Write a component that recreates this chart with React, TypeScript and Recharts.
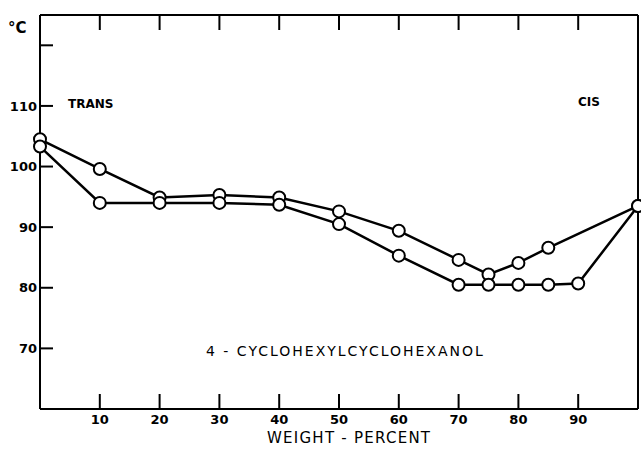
import * as React from 'react';
import { LineChart, Line, XAxis, YAxis, Customized } from 'recharts';

// weight-percent of cis isomer
const weights = [0, 10, 20, 30, 40, 50, 60, 70, 75, 80, 85, 90, 100];
// upper curve (no point at 90)
const upperTemps = [104.5, 99.6, 94.9, 95.3, 94.9, 92.6, 89.4, 84.6, 82.2, 84.1, 86.6, null, 93.5];
// lower curve
const lowerTemps = [103.3, 94.0, 94.0, 94.0, 93.7, 90.5, 85.3, 80.5, 80.5, 80.5, 80.5, 80.7, 93.5];

const xTicks = [10, 20, 30, 40, 50, 60, 70, 80, 90];
const yTicks = [70, 80, 90, 100, 110, 120];
const yTicksRight = [70, 80, 100, 110, 120];

const data = weights.map((w, i) => ({ x: w, upper: upperTemps[i], lower: lowerTemps[i] }));

const INK = '#000';
const FONT = '"DejaVu Sans", "Liberation Sans", sans-serif';

const Annotations = () => (
  <g fontFamily={FONT} fill={INK}>
    <text x={8} y={33} fontSize={15} fontWeight="bold">°C</text>
    <text x={68} y={108} fontSize={12} fontWeight="bold">TRANS</text>
    <text x={578} y={106} fontSize={12} fontWeight="bold">CIS</text>
    <text x={206} y={356} fontSize={14} letterSpacing={2}>4 - CYCLOHEXYLCYCLOHEXANOL</text>
    <text x={267} y={443} fontSize={15} letterSpacing={1.25}>WEIGHT - PERCENT</text>
  </g>
);

export default function App() {
  const dot = { r: 6, fill: '#fff', stroke: INK, strokeWidth: 2 };
  const tickStyle = { fill: INK, fontSize: 13, fontWeight: 'bold' as const, fontFamily: FONT };
  return (
    <div style={{ position: 'absolute', left: 0, top: 0, background: '#fff' }}>
      <LineChart width={641} height={456} data={data} margin={{ top: 0, right: 0, bottom: 0, left: 0 }}>
        <XAxis
          type="number"
          dataKey="x"
          domain={[0, 100]}
          ticks={xTicks}
          height={47}
          tickSize={-15}
          tickMargin={21}
          tick={tickStyle}
          axisLine={{ stroke: INK, strokeWidth: 2 }}
          tickLine={{ stroke: INK, strokeWidth: 2 }}
        />
        <XAxis
          xAxisId="top"
          orientation="top"
          type="number"
          dataKey="x"
          domain={[0, 100]}
          ticks={xTicks}
          height={15}
          tickSize={-15}
          tickFormatter={() => ''}
          axisLine={{ stroke: INK, strokeWidth: 2 }}
          tickLine={{ stroke: INK, strokeWidth: 2 }}
        />
        <YAxis
          type="number"
          domain={[60, 125]}
          ticks={yTicks}
          width={40}
          tickSize={-13}
          tickMargin={16}
          tick={tickStyle}
          tickFormatter={(v: number) => (v === 120 ? '' : String(v))}
          axisLine={{ stroke: INK, strokeWidth: 2 }}
          tickLine={{ stroke: INK, strokeWidth: 2 }}
        />
        <YAxis
          yAxisId="right"
          orientation="right"
          type="number"
          domain={[60, 125]}
          ticks={yTicksRight}
          width={3}
          tickSize={-13}
          tickFormatter={() => ''}
          axisLine={{ stroke: INK, strokeWidth: 2 }}
          tickLine={{ stroke: INK, strokeWidth: 2 }}
        />
        <Line
          dataKey="upper"
          type="linear"
          stroke={INK}
          strokeWidth={2.5}
          dot={dot}
          connectNulls
          isAnimationActive={false}
        />
        <Line
          dataKey="lower"
          type="linear"
          stroke={INK}
          strokeWidth={2.5}
          dot={dot}
          isAnimationActive={false}
        />
        <Customized component={Annotations} />
      </LineChart>
    </div>
  );
}
